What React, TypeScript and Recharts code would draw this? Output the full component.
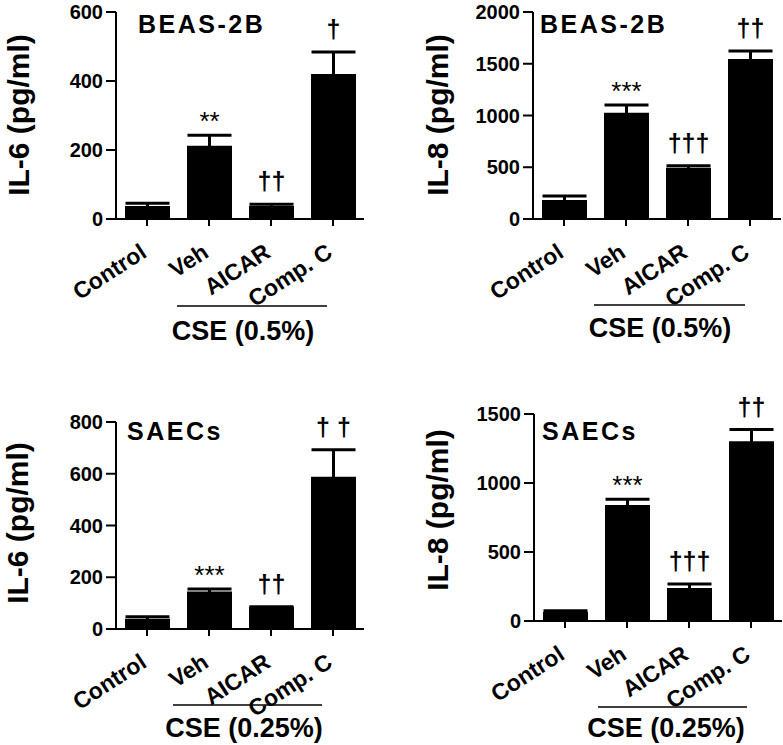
import {
  Bar,
  BarChart,
  Customized,
  ErrorBar,
  LabelList,
  XAxis,
  YAxis,
} from "recharts";

const categories = ["Control", "Veh", "AICAR", "Comp. C"];

// BEAS-2B, CSE 0.5%
const il6Beas = [38, 212, 38, 420];
const il6BeasErr = [8, 31, 5, 64];
const il6BeasSig = ["", "**", "††", "†"];
const il6BeasTicks = [0, 200, 400, 600];

const il8Beas = [184, 1027, 496, 1546];
const il8BeasErr = [38, 74, 19, 77];
const il8BeasSig = ["", "***", "†††", "††"];
const il8BeasTicks = [0, 500, 1000, 1500, 2000];

// SAECs, CSE 0.25%
const il6Saec = [40, 145, 84, 588];
const il6SaecErr = [7, 10, 2, 105];
const il6SaecSig = ["", "***", "††", "† †"];
const il6SaecTicks = [0, 200, 400, 600, 800];

const il8Saec = [65, 841, 240, 1303];
const il8SaecErr = [10, 41, 29, 84];
const il8SaecSig = ["", "***", "†††", "††"];
const il8SaecTicks = [0, 500, 1000, 1500];

const FONT = "'Liberation Sans', Arial, Helvetica, sans-serif";
// extra headroom above the plot so the markers are not clipped
const PAD = 30;

function buildRows(values: number[], errs: number[], sig: string[]) {
  return categories.map((name, i) => ({
    name,
    value: values[i],
    err: errs[i],
    sig: sig[i],
  }));
}

interface PanelParams {
  left: number;
  top: number;
  rows: { name: string; value: number; err: number; sig: string }[];
  ticks: number[];
  yLabel: string;
  title: string;
  group: string;
  titleX: number;
  titleY: number;
  yLabelX: number;
  yLabelY: number;
  lineX1: number;
  lineX2: number;
  lineY: number;
  groupX: number;
  groupY: number;
}

function Panel(p: PanelParams) {
  const { rows } = p;

  const sigLabel = (props: any) => {
    const { x, y, width, height, index } = props;
    const row = rows[index];
    if (!row || !row.sig) return null;
    const errTop = y + height - ((row.value + row.err) * height) / row.value;
    const isStar = row.sig.includes("*");
    return (
      <text
        x={x + width / 2}
        y={isStar ? errTop - 5 : errTop - 14}
        textAnchor="middle"
        fontFamily={FONT}
        fontSize={isStar ? 26 : 25}
        fontWeight={isStar ? "normal" : "bold"}
        fill="#000"
      >
        {row.sig}
      </text>
    );
  };

  return (
    <div style={{ position: "absolute", left: p.left, top: p.top - PAD }}>
      <BarChart
        width={366}
        height={350 + PAD}
        data={rows}
        margin={{ top: 12 + PAD, right: 2, left: 0, bottom: 0 }}
        barSize={45}
      >
        <XAxis
          dataKey="name"
          height={131}
          interval={0}
          tickSize={7}
          tickMargin={2}
          axisLine={{ stroke: "#000", strokeWidth: 2 }}
          tickLine={{ stroke: "#000", strokeWidth: 2 }}
          tick={(t: any) => (
            <text
              transform={`translate(${t.x + 1},${t.y + 28}) rotate(-33)`}
              textAnchor="end"
              fontFamily={FONT}
              fontSize={23}
              fontWeight="bold"
              fill="#000"
            >
              {t.payload.value}
            </text>
          )}
        />
        <YAxis
          type="number"
          domain={[0, p.ticks[p.ticks.length - 1]]}
          ticks={p.ticks}
          interval={0}
          width={116}
          tickSize={10}
          tickMargin={3}
          axisLine={{ stroke: "#000", strokeWidth: 2 }}
          tickLine={{ stroke: "#000", strokeWidth: 2 }}
          tick={(t: any) => (
            <text
              x={t.x}
              y={t.y}
              textAnchor="end"
              dominantBaseline="central"
              fontFamily={FONT}
              fontSize={20}
              fontWeight="bold"
              fill="#000"
            >
              {t.payload.value}
            </text>
          )}
        />
        <Bar dataKey="value" fill="#000" isAnimationActive={false}>
          <ErrorBar
            dataKey="err"
            direction="y"
            width={22}
            strokeWidth={3}
            stroke="#000"
            isAnimationActive={false}
          />
          <LabelList dataKey="sig" content={sigLabel} />
        </Bar>
        <Customized
          component={() => (
            <g fontFamily={FONT} fontWeight="bold" fill="#000">
              <text
                transform={`translate(${p.yLabelX},${p.yLabelY + PAD}) rotate(-90)`}
                textAnchor="middle"
                dominantBaseline="central"
                fontSize={30}
              >
                {p.yLabel}
              </text>
              <text x={p.titleX} y={p.titleY + PAD} fontSize={25} letterSpacing={2.5}>
                {p.title}
              </text>
              <line
                x1={p.lineX1}
                x2={p.lineX2}
                y1={p.lineY + PAD}
                y2={p.lineY + PAD}
                stroke="#000"
                strokeWidth={1.5}
              />
              <text
                x={p.groupX}
                y={p.groupY + PAD}
                textAnchor="middle"
                fontSize={27}
              >
                {p.group}
              </text>
            </g>
          )}
        />
      </BarChart>
    </div>
  );
}

export default function App() {
  return (
    <div
      style={{
        position: "absolute",
        left: 0,
        top: 0,
        width: 783,
        height: 745,
        overflow: "hidden",
        background: "#fff",
      }}
    >
      <Panel
        left={0}
        top={0}
        rows={buildRows(il6Beas, il6BeasErr, il6BeasSig)}
        ticks={il6BeasTicks}
        yLabel="IL-6 (pg/ml)"
        title="BEAS-2B"
        group="CSE (0.5%)"
        titleX={138}
        titleY={33}
        yLabelX={18}
        yLabelY={115}
        lineX1={177}
        lineX2={327}
        lineY={306}
        groupX={243}
        groupY={340}
      />
      <Panel
        left={417}
        top={0}
        rows={buildRows(il8Beas, il8BeasErr, il8BeasSig)}
        ticks={il8BeasTicks}
        yLabel="IL-8 (pg/ml)"
        title="BEAS-2B"
        group="CSE (0.5%)"
        titleX={123}
        titleY={33}
        yLabelX={20}
        yLabelY={115}
        lineX1={177}
        lineX2={328}
        lineY={305}
        groupX={243}
        groupY={337}
      />
      <Panel
        left={0}
        top={410}
        rows={buildRows(il6Saec, il6SaecErr, il6SaecSig)}
        ticks={il6SaecTicks}
        yLabel="IL-6 (pg/ml)"
        title="SAECs"
        group="CSE (0.25%)"
        titleX={127}
        titleY={30}
        yLabelX={17}
        yLabelY={113}
        lineX1={173}
        lineX2={322}
        lineY={295}
        groupX={244}
        groupY={327}
      />
      <Panel
        left={418}
        top={402}
        rows={buildRows(il8Saec, il8SaecErr, il8SaecSig)}
        ticks={il8SaecTicks}
        yLabel="IL-8 (pg/ml)"
        title="SAECs"
        group="CSE (0.25%)"
        titleX={124}
        titleY={38}
        yLabelX={19.5}
        yLabelY={108}
        lineX1={180}
        lineX2={329}
        lineY={305}
        groupX={248}
        groupY={335}
      />
    </div>
  );
}
